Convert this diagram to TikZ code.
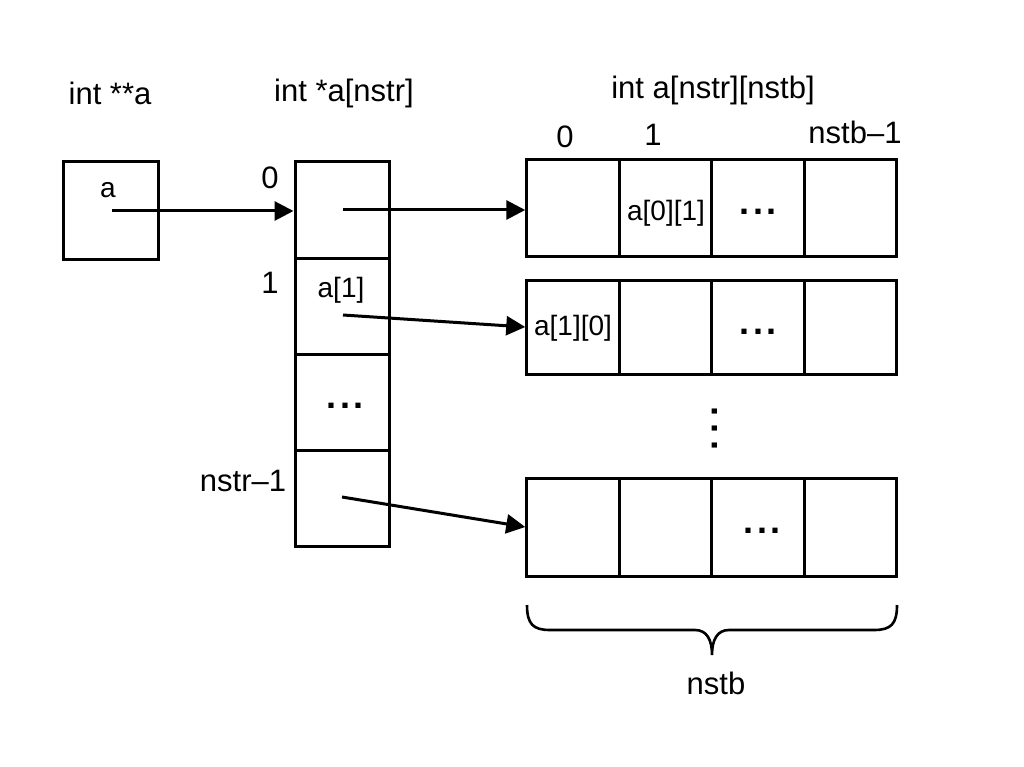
\documentclass[tikz,border=0pt]{standalone}
\usepackage{fontspec}
\setmainfont{Liberation Sans}
\usetikzlibrary{arrows.meta}
\begin{document}
\begin{tikzpicture}[x=1pt,y=-1pt,
  cell/.style={draw, line width=3pt, minimum width=92.5pt, minimum height=96pt, inner sep=0pt},
  lbl/.style={font=\fontsize{31}{33}\selectfont, inner sep=0pt},
  small/.style={font=\fontsize{28}{30}\selectfont, inner sep=0pt},
  ptr/.style={line width=3pt, -{Triangle[length=19pt,width=19pt]}},
  hdots/.style={inner sep=0pt, font=\fontsize{36}{36}\selectfont\bfseries},
  bracepath/.style={line width=2.6pt}
]
\useasboundingbox[fill=white] (0,0) rectangle (1024,767);

% titles
\node[lbl] (t1) at (110,93) {int **a};
\node[lbl] (t2) at (344,93) {int *a[nstr]};
\node[lbl] (t3) at (713,90) {int a[nstr][nstb]};

% pointer variable
\node[cell, minimum width=95pt, minimum height=97pt] (A) at (110.5,210.5) {};
\node[small] (la) at (108,190) {a};

% pointer array
\node[cell, minimum width=94pt] (p0) at (342,210) {};
\node[cell, minimum width=94pt] (p1) at (342,306) {};
\node[cell, minimum width=94pt] (p2) at (342,402) {};
\node[cell, minimum width=94pt] (p3) at (342,498) {};
\node[lbl] (i0) at (270,178) {0};
\node[lbl] (i1) at (270,283) {1};
\node[lbl] (i3) at (243,481) {nstr–1};
\node[small] (la1) at (341,290) {a[1]};
\node[hdots] (d1) at (345,406) {.\kern3.5pt.\kern3.5pt.};

% rows
\foreach \r/\y/\h in {1/208/97, 2/327/94, 3/527/98}{
  \foreach \c/\x in {0/573, 1/665.5, 2/758, 3/850.5}{
    \node[cell, minimum height=\h pt] (r\r c\c) at (\x,\y) {};
  }
}
\node[lbl] (j0) at (565,137) {0};
\node[lbl] (j1) at (653,135) {1};
\node[lbl] (j3) at (855,132) {nstb–1};
\node[small] (c01) at (666,213) {a[0][1]};
\node[small] (c10) at (573,328) {a[1][0]};
\node[hdots] (d2) at (758,212) {.\kern3.5pt.\kern3.5pt.};
\node[hdots] (d3) at (758,332) {.\kern3.5pt.\kern3.5pt.};
\node[hdots] (d4) at (762,531) {.\kern3.5pt.\kern3.5pt.};
\node[hdots, rotate=90] (d5) at (715,428) {.\kern7pt.\kern7pt.};

% arrows
\coordinate (sa) at (112,211);
\draw[ptr] (sa) -- (sa -| p0.west);
\coordinate (s0) at (343,210);
\draw[ptr] (s0) -- (s0 -| r1c0.west);
\coordinate (s1) at (343,315);
\draw[ptr] (s1) -- (r2c0.west);
\coordinate (s3) at (342,497);
\draw[ptr] (s3) -- (r3c0.west);

% brace
\draw[bracepath] (527,605) .. controls (527,624) and (533,630) .. (550,630)
  -- (695,630) .. controls (707,630) and (712,640) .. (712,655)
  .. controls (712,640) and (717,630) .. (729,630)
  -- (874,630) .. controls (891,630) and (897,624) .. (897,605);
\node[lbl] (nb) at (716,683) {nstb};
\end{tikzpicture}
\end{document}
